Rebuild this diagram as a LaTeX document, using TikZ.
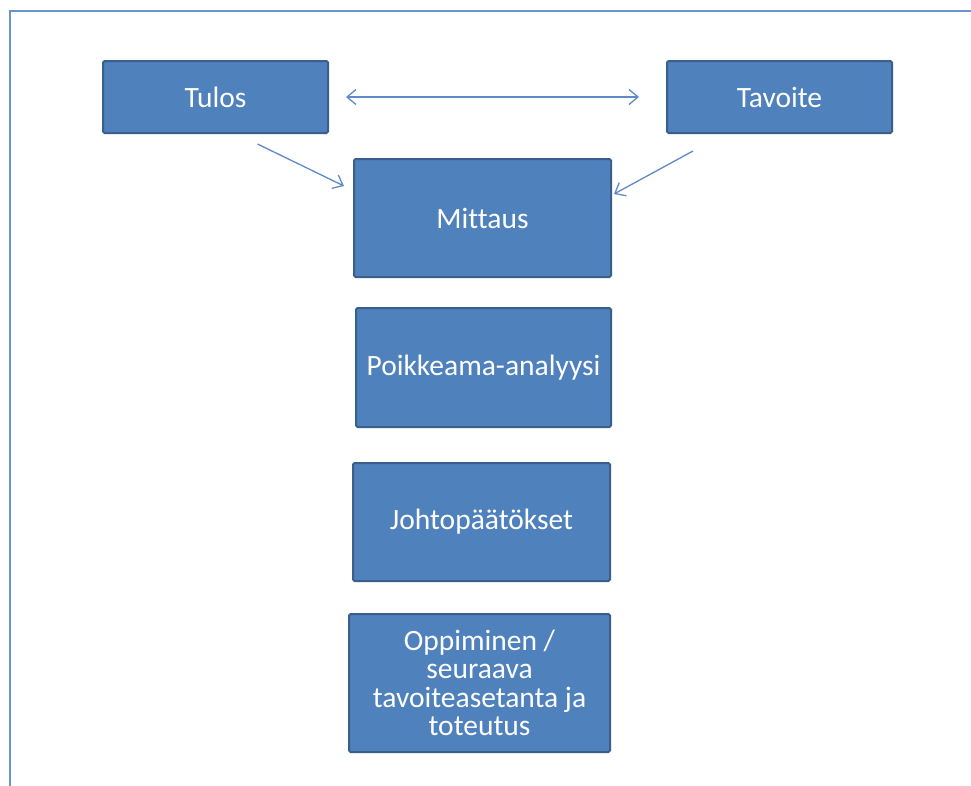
\documentclass[tikz,border=0pt]{standalone}
\usepackage{fontspec}
\setmainfont{Carlito}[Ligatures={NoCommon}]
\usetikzlibrary{arrows.meta}
\definecolor{boxfill}{HTML}{4F81BD}
\definecolor{boxline}{HTML}{3A5F8B}
\definecolor{arrowcol}{HTML}{5E8AC7}
\definecolor{framecol}{HTML}{6A93CD}
\tikzset{
  box/.style={draw=boxline, line width=2pt, fill=boxfill, rounded corners=1.5pt,
    text=white, font=\fontsize{29.5}{28.3}\selectfont, align=center, inner sep=0pt},
  conn/.style={draw=arrowcol, line width=1.3pt, -{Straight Barb[length=9pt,width=15pt,line width=1.3pt]}},
}
\begin{document}
\begin{tikzpicture}[x=1pt,y=-1pt]
\useasboundingbox (0,0) rectangle (971,785);
\fill[white] (0,0) rectangle (971,785);
\draw[framecol, line width=2.5pt] (10,786) -- (10,11) -- (972,11);

\node[box, minimum width=225pt, minimum height=72pt] (tulos) at (215.5,97) {Tulos};
\node[box, minimum width=225pt, minimum height=72pt] (tavoite) at (779.5,97) {Tavoite};
\node[box, minimum width=257pt, minimum height=118pt] (mittaus) at (482.5,218) {Mittaus};
\node[box, minimum width=255pt, minimum height=119pt] (poikkeama) at (483.5,367.5) {Poikkeama-analyysi};
\node[box, minimum width=257pt, minimum height=118pt] (johto) at (481.5,522) {Johtopäätökset};
\node[box, minimum width=261pt, minimum height=138pt] (oppi) at (479.5,683) {Oppiminen /\\seuraava\\tavoiteasetanta ja\\toteutus};

\draw[conn, {Straight Barb[length=9pt,width=15pt,line width=1.3pt]}-{Straight Barb[length=9pt,width=15pt,line width=1.3pt]}, shorten <=17pt, shorten >=27pt] (tulos.east) -- (tavoite.west);
\draw[conn] ([xshift=42pt,yshift=-10pt]tulos.south) -- ([xshift=-9pt,yshift=-28pt]mittaus.north west);
\draw[conn] ([xshift=-86.5pt,yshift=-17pt]tavoite.south) -- ([xshift=2pt,yshift=-36pt]mittaus.north east);
\end{tikzpicture}
\end{document}
